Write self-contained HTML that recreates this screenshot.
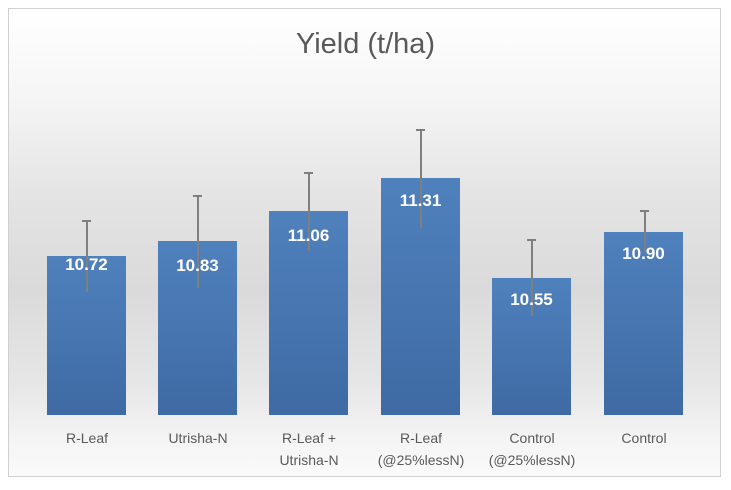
<!DOCTYPE html>
<html><head><style>
body{margin:0;width:731px;height:490px;background:#fff;overflow:hidden;font-family:"Liberation Sans",sans-serif}
#c{position:absolute;left:8px;top:8px;width:713px;height:469px;border:1px solid #d0d0d0;box-sizing:border-box;
background:linear-gradient(to bottom,#ffffff 0%,#f6f6f6 18%,#e4e4e4 40%,#dadada 60%,#e6e6e6 80%,#f4f4f4 92%,#fafafa 100%)}
.t{position:absolute;left:0;width:731px;top:28px;text-align:center;font-size:29px;color:#595959}
.b{position:absolute;width:79px;background:linear-gradient(to bottom,#4f81bd,#3f6aa3)}
.v{position:absolute;width:79px;text-align:center;color:#fff;font-weight:bold;font-size:17px}
.e{position:absolute;width:1.5px;background:#7f7f7f}
.cap{position:absolute;width:9px;height:1.5px;background:#7f7f7f}
.l{position:absolute;width:120px;text-align:center;color:#595959;font-size:14px;line-height:22px;top:427px}
</style></head><body>
<div id="c"></div>
<div class="t">Yield (t/ha)</div>
<div class="b" style="left:47px;top:256px;height:159px"></div>
<div class="b" style="left:158px;top:241px;height:174px"></div>
<div class="b" style="left:269px;top:211px;height:204px"></div>
<div class="b" style="left:381px;top:178px;height:237px"></div>
<div class="b" style="left:492px;top:278px;height:137px"></div>
<div class="b" style="left:604px;top:232px;height:183px"></div>
<div class="e" style="left:86px;top:220px;height:72px"></div><div class="cap" style="left:82px;top:220px"></div>
<div class="e" style="left:197px;top:195px;height:93px"></div><div class="cap" style="left:193px;top:195px"></div>
<div class="e" style="left:308px;top:172px;height:79px"></div><div class="cap" style="left:304px;top:172px"></div>
<div class="e" style="left:420px;top:129px;height:99px"></div><div class="cap" style="left:416px;top:129px"></div>
<div class="e" style="left:531px;top:239px;height:77px"></div><div class="cap" style="left:527px;top:239px"></div>
<div class="e" style="left:644px;top:210px;height:42px"></div><div class="cap" style="left:640px;top:210px"></div>
<div class="v" style="left:47px;top:255px">10.72</div>
<div class="v" style="left:158px;top:256px">10.83</div>
<div class="v" style="left:269px;top:226px">11.06</div>
<div class="v" style="left:381px;top:191px">11.31</div>
<div class="v" style="left:492px;top:290px">10.55</div>
<div class="v" style="left:604px;top:244px">10.90</div>
<div class="l" style="left:27px">R-Leaf</div>
<div class="l" style="left:138px">Utrisha-N</div>
<div class="l" style="left:249px">R-Leaf +<br>Utrisha-N</div>
<div class="l" style="left:361px">R-Leaf<br>(@25%lessN)</div>
<div class="l" style="left:472px">Control<br>(@25%lessN)</div>
<div class="l" style="left:584px">Control</div>
</body></html>
